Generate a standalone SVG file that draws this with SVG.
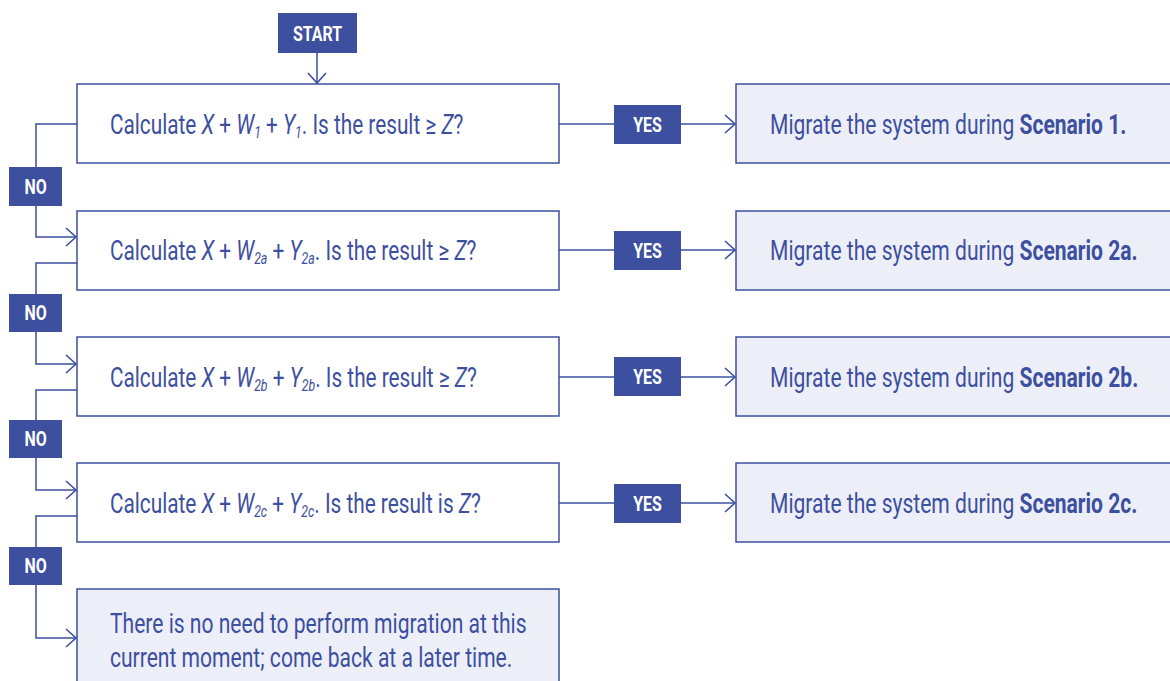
<svg xmlns="http://www.w3.org/2000/svg" width="1170" height="681" viewBox="0 0 1170 681">
  <defs>
    <marker id="chev" markerUnits="userSpaceOnUse" markerWidth="14" markerHeight="22" refX="11" refY="10" orient="auto" overflow="visible">
      <path d="M1,1 L11,10 L1,19" fill="none" stroke="#3d4f9f" stroke-width="1.6"/>
    </marker>
  </defs>
  <style>
    .box { fill: #ffffff; stroke: #3d4f9f; stroke-width: 1.5; }
    .res { fill: #eceef8; stroke: #3d4f9f; stroke-width: 1.5; }
    .tag { fill: #3d4f9f; }
    .tagtxt { font-family: Roboto, "Liberation Sans", sans-serif; font-weight: 700; font-size: 21px; fill: #ffffff; text-anchor: middle; }
    .txt { font-family: Roboto, "Liberation Sans", sans-serif; font-size: 27px; fill: #3d4f9f; }
    .it { font-style: italic; }
    .b { font-weight: 700; }
    .sub { font-size: 16px; font-style: italic; }
    .line { fill: none; stroke: #3d4f9f; stroke-width: 1.5; }
  </style>
  <rect width="1170" height="681" fill="#ffffff"/>

  <g id="connectors">
    <line class="line" x1="317" y1="53" x2="317" y2="83" marker-end="url(#chev)"/>
    <!-- yes branches -->
    <line class="line" x1="559" y1="124" x2="614" y2="124"/>
    <line class="line" x1="681" y1="124" x2="735" y2="124" marker-end="url(#chev)"/>
    <line class="line" x1="559" y1="250" x2="614" y2="250"/>
    <line class="line" x1="681" y1="250" x2="735" y2="250" marker-end="url(#chev)"/>
    <line class="line" x1="559" y1="377" x2="614" y2="377"/>
    <line class="line" x1="681" y1="377" x2="735" y2="377" marker-end="url(#chev)"/>
    <line class="line" x1="559" y1="503" x2="614" y2="503"/>
    <line class="line" x1="681" y1="503" x2="735" y2="503" marker-end="url(#chev)"/>
    <!-- no branches -->
    <polyline class="line" points="77,124 36,124 36,167"/>
    <polyline class="line" points="36,206 36,237 76,237" marker-end="url(#chev)"/>
    <polyline class="line" points="77,263 36,263 36,294"/>
    <polyline class="line" points="36,332 36,364 76,364" marker-end="url(#chev)"/>
    <polyline class="line" points="77,390 36,390 36,420"/>
    <polyline class="line" points="36,458 36,490 76,490" marker-end="url(#chev)"/>
    <polyline class="line" points="77,516 36,516 36,547"/>
    <polyline class="line" points="36,585 36,638 76,638" marker-end="url(#chev)"/>
  </g>

  <g id="start">
    <rect class="tag" x="278" y="13" width="79" height="40"/>
    <text class="tagtxt" transform="translate(317.5,41) scale(0.76,1)">START</text>
  </g>

  <g id="q1">
    <rect class="box" x="77" y="84" width="482" height="79"/>
    <text class="txt" transform="translate(110,134) scale(0.77,1)">Calculate <tspan class="it">X</tspan> + <tspan class="it">W</tspan><tspan class="sub" dy="4">1</tspan><tspan dy="-4"> + </tspan><tspan class="it">Y</tspan><tspan class="sub" dy="4">1</tspan><tspan dy="-4">. Is the result ≥ </tspan><tspan class="it">Z</tspan>?</text>
  </g>
  <g id="q2">
    <rect class="box" x="77" y="211" width="482" height="79"/>
    <text class="txt" transform="translate(110,260) scale(0.77,1)">Calculate <tspan class="it">X</tspan> + <tspan class="it">W</tspan><tspan class="sub" dy="4">2a</tspan><tspan dy="-4"> + </tspan><tspan class="it">Y</tspan><tspan class="sub" dy="4">2a</tspan><tspan dy="-4">. Is the result ≥ </tspan><tspan class="it">Z</tspan>?</text>
  </g>
  <g id="q3">
    <rect class="box" x="77" y="337" width="482" height="79"/>
    <text class="txt" transform="translate(110,387) scale(0.77,1)">Calculate <tspan class="it">X</tspan> + <tspan class="it">W</tspan><tspan class="sub" dy="4">2b</tspan><tspan dy="-4"> + </tspan><tspan class="it">Y</tspan><tspan class="sub" dy="4">2b</tspan><tspan dy="-4">. Is the result ≥ </tspan><tspan class="it">Z</tspan>?</text>
  </g>
  <g id="q4">
    <rect class="box" x="77" y="463" width="482" height="79"/>
    <text class="txt" transform="translate(110,513) scale(0.77,1)">Calculate <tspan class="it">X</tspan> + <tspan class="it">W</tspan><tspan class="sub" dy="4">2c</tspan><tspan dy="-4"> + </tspan><tspan class="it">Y</tspan><tspan class="sub" dy="4">2c</tspan><tspan dy="-4">. Is the result is </tspan><tspan class="it">Z</tspan>?</text>
  </g>

  <g id="none">
    <rect class="res" x="77" y="589" width="482" height="100"/>
    <text class="txt" transform="translate(110,633) scale(0.78,1)">There is no need to perform migration at this</text>
    <text class="txt" transform="translate(110,667) scale(0.78,1)">current moment; come back at a later time.</text>
  </g>

  <g id="yes1"><rect class="tag" x="614" y="105" width="67" height="39"/><text class="tagtxt" transform="translate(647.5,132) scale(0.76,1)">YES</text></g>
  <g id="yes2"><rect class="tag" x="614" y="231" width="67" height="39"/><text class="tagtxt" transform="translate(647.5,258) scale(0.76,1)">YES</text></g>
  <g id="yes3"><rect class="tag" x="614" y="357" width="67" height="39"/><text class="tagtxt" transform="translate(647.5,384) scale(0.76,1)">YES</text></g>
  <g id="yes4"><rect class="tag" x="614" y="484" width="67" height="39"/><text class="tagtxt" transform="translate(647.5,511) scale(0.76,1)">YES</text></g>

  <g id="no1"><rect class="tag" x="9" y="167" width="53" height="39"/><text class="tagtxt" transform="translate(35.5,194) scale(0.76,1)">NO</text></g>
  <g id="no2"><rect class="tag" x="9" y="294" width="53" height="38"/><text class="tagtxt" transform="translate(35.5,320) scale(0.76,1)">NO</text></g>
  <g id="no3"><rect class="tag" x="9" y="420" width="53" height="38"/><text class="tagtxt" transform="translate(35.5,446) scale(0.76,1)">NO</text></g>
  <g id="no4"><rect class="tag" x="9" y="547" width="53" height="38"/><text class="tagtxt" transform="translate(35.5,573) scale(0.76,1)">NO</text></g>

  <g id="s1">
    <rect class="res" x="736" y="84" width="440" height="79"/>
    <text class="txt" transform="translate(770,134) scale(0.78,1)">Migrate the system during <tspan class="b">Scenario 1.</tspan></text>
  </g>
  <g id="s2a">
    <rect class="res" x="736" y="211" width="440" height="79"/>
    <text class="txt" transform="translate(770,260) scale(0.78,1)">Migrate the system during <tspan class="b">Scenario 2a.</tspan></text>
  </g>
  <g id="s2b">
    <rect class="res" x="736" y="337" width="440" height="79"/>
    <text class="txt" transform="translate(770,387) scale(0.78,1)">Migrate the system during <tspan class="b">Scenario 2b.</tspan></text>
  </g>
  <g id="s2c">
    <rect class="res" x="736" y="463" width="440" height="79"/>
    <text class="txt" transform="translate(770,513) scale(0.78,1)">Migrate the system during <tspan class="b">Scenario 2c.</tspan></text>
  </g>
</svg>
